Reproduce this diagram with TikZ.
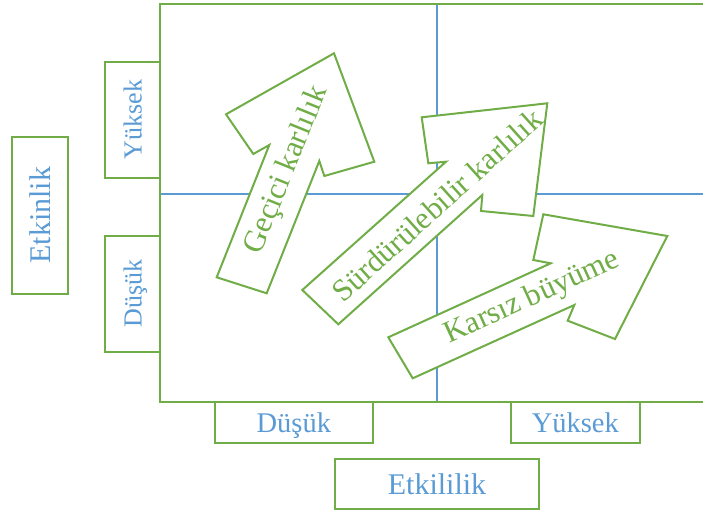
\documentclass[tikz,border=0pt]{standalone}
\usepackage{fontspec}
\setmainfont{Liberation Serif}
\definecolor{leaf}{HTML}{70AD47}
\definecolor{sky}{HTML}{5B9BD5}
\begin{document}
\begin{tikzpicture}[x=1pt,y=-1pt,
  frameline/.style={draw=leaf,line width=2pt},
  axisline/.style={draw=sky,line width=2pt},
  labelbox/.style={draw=leaf,line width=2pt,fill=white,text=sky,inner sep=0pt,text depth=0pt},
  sidefont/.style={font=\fontsize{26}{30}\selectfont},
  basefont/.style={font=\fontsize{28.5}{32}\selectfont},
  titlefont/.style={font=\fontsize{30}{34}\selectfont},
  bigarrow/.style={draw=leaf,line width=2pt,fill=white,line join=miter},
  arrowtext/.style={text=leaf,inner sep=0pt,font=\fontsize{31}{36}\selectfont},
]
\useasboundingbox (0,0) rectangle (703,511);

% matrix frame and its quadrant lines
\coordinate (tl) at (160,4);
\coordinate (bl) at (160,402);
\coordinate (tr) at (703,4);
\coordinate (br) at (703,402);
\coordinate (vtop) at (437,4);
\coordinate (vbot) at (437,402);
\coordinate (hleft) at (160,194);
\coordinate (hright) at (703,194);
\draw[axisline] (vtop) -- (vbot);
\draw[axisline] (hleft) -- (hright);
\draw[frameline] (tr) -- (tl) -- (bl) -- (br);

% vertical axis labels
\node[labelbox,sidefont,rotate=90,minimum width=116pt,minimum height=55pt] (yhigh) at (132.5,119.7) {Yüksek};
\node[labelbox,sidefont,rotate=90,minimum width=116pt,minimum height=55pt] (ylow) at (132.5,293.7) {Düşük};
\node[labelbox,titlefont,rotate=90,minimum width=157pt,minimum height=56pt] (ytitle) at (40.3,215.3) {Etkinlik};

% horizontal axis labels
\node[labelbox,basefont,minimum width=157.7pt,minimum height=41pt] (xlow) at (293.8,422.2) {Düşük};
\node[labelbox,basefont,minimum width=129.3pt,minimum height=41pt] (xhigh) at (575.3,422.5) {Yüksek};
\node[labelbox,titlefont,minimum width=204pt,minimum height=50pt] (xtitle) at (437,484.3) {Etkililik};

% block arrows
\draw[bigarrow] (226,114.3) -- (334,53.3) -- (374.3,161.7) -- (324.3,176) -- (319.3,161)
  -- (266.7,293.3) -- (216.7,277.3) -- (269.3,145) -- (253.3,154) -- cycle;
\node[arrowtext,rotate=68] (gecici) at (287,170) {Geçici karlılık};

\draw[bigarrow] (421.7,117.3) -- (547.3,103.3) -- (533.3,216) -- (481,211) -- (482.3,195)
  -- (338.3,324.3) -- (302.3,290) -- (446,161.7) -- (428.3,163.3) -- cycle;
\node[arrowtext,rotate=42] (surdur) at (437,205) {Sürdürülebilir karlılık};

\draw[bigarrow] (543.3,214.3) -- (667.3,236) -- (615,339) -- (567.7,320.7) -- (574.3,305)
  -- (412.7,378.3) -- (388.3,337.3) -- (550.7,263.3) -- (533.3,260) -- cycle;
\node[arrowtext,rotate=24.5] (karsiz) at (532,298) {Karsız büyüme};
\end{tikzpicture}
\end{document}
